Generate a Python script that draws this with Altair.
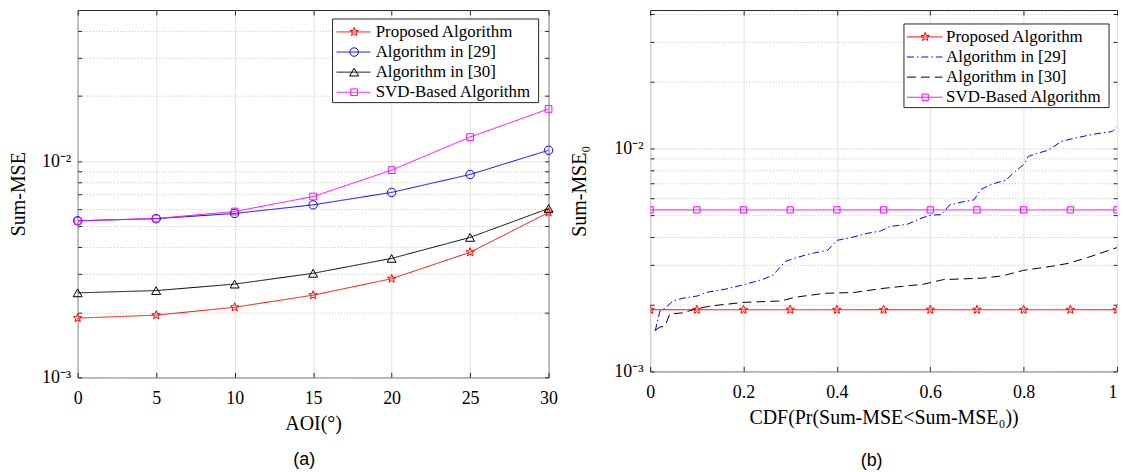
import math
import altair as alt
import pandas as pd

# ---------------- data ----------------
NAMES = ["Proposed Algorithm", "Algorithm in [29]", "Algorithm in [30]", "SVD-Based Algorithm"]
COLORS = ["#ff0000", "#0000ff", "#000000", "#ff00ff"]

# panel (a)
aoi = [0, 5, 10, 15, 20, 25, 30]
a_proposed = [0.00188, 0.00194, 0.00211, 0.00240, 0.00286, 0.00379, 0.00579]
a_alg29 = [0.00530, 0.00542, 0.00573, 0.00628, 0.00717, 0.00868, 0.01123]
a_alg30 = [0.00246, 0.00252, 0.00270, 0.00303, 0.00355, 0.00444, 0.00604]
a_svd = [0.00530, 0.00543, 0.00585, 0.00686, 0.00909, 0.01293, 0.01744]

# panel (b)
cdf_markers = [0.0, 0.1, 0.2, 0.3, 0.4, 0.5, 0.6, 0.7, 0.8, 0.9, 1.0]
b_proposed = [0.00189, 0.00189, 0.00189, 0.00189, 0.00189, 0.00189,
              0.00189, 0.00189, 0.00189, 0.00189, 0.00189]
b_svd = [0.00530, 0.00530, 0.00530, 0.00530, 0.00530, 0.00530,
         0.00530, 0.00530, 0.00530, 0.00530, 0.00530]
b29_cdf = [0.011, 0.021, 0.032, 0.049, 0.070, 0.102, 0.120, 0.162, 0.201, 0.240,
           0.264, 0.289, 0.310, 0.338, 0.381, 0.400, 0.430, 0.465, 0.493, 0.514,
           0.550, 0.578, 0.601, 0.624, 0.641, 0.666, 0.694, 0.708, 0.733, 0.761,
           0.782, 0.800, 0.810, 0.831, 0.852, 0.881, 0.909, 0.951, 0.990, 1.000]
b29_val = [0.00152, 0.00187, 0.00192, 0.00207, 0.00213, 0.00218, 0.00226, 0.00234, 0.00245, 0.00258,
           0.00271, 0.00311, 0.00322, 0.00335, 0.00350, 0.00387, 0.00398, 0.00416, 0.00426, 0.00447,
           0.00456, 0.00484, 0.00502, 0.00505, 0.00557, 0.00574, 0.00588, 0.00654, 0.00693, 0.00719,
           0.00789, 0.00846, 0.00921, 0.00953, 0.00980, 0.01075, 0.01112, 0.01159, 0.01191, 0.01254]
b30_cdf = [0.011, 0.021, 0.032, 0.042, 0.070, 0.099, 0.134, 0.201, 0.281, 0.310, 0.374,
           0.437, 0.501, 0.585, 0.628, 0.712, 0.754, 0.800, 0.860, 0.895, 0.937, 1.000]
b30_val = [0.00153, 0.00158, 0.00160, 0.00181, 0.00183, 0.00191, 0.00197, 0.00204, 0.00207, 0.00215, 0.00224,
           0.00226, 0.00236, 0.00246, 0.00258, 0.00262, 0.00268, 0.00284, 0.00296, 0.00305, 0.00324, 0.00359]

yticks_a = [0.001, 0.002, 0.003, 0.004, 0.005, 0.006, 0.007, 0.008, 0.009,
            0.01, 0.02, 0.03, 0.04]
yticks_b = [0.001, 0.002, 0.003, 0.004, 0.005, 0.006, 0.007, 0.008, 0.009,
            0.01, 0.02, 0.03, 0.04]
xticks_a = [0, 5, 10, 15, 20, 25, 30]
xticks_b = [0, 0.2, 0.4, 0.6, 0.8, 1]

SERIF = "Liberation Serif"
SANS = "Liberation Sans"
BOX = "#262626"


# ---------------- marker geometry ----------------
def star_path(ro, ri):
    pts = []
    for k in range(10):
        r = ro if k % 2 == 0 else ri
        a = math.radians(-90 + 36 * k)
        pts.append((r * math.cos(a), r * math.sin(a)))
    return "M" + " L".join(f"{x:.3f},{y:.3f}" for x, y in pts) + " Z"


STAR = star_path(1.0, 0.42)

# ---------------- tables ----------------
rows = []
for name, vals in zip(NAMES, [a_proposed, a_alg29, a_alg30, a_svd]):
    for x, v in zip(aoi, vals):
        rows.append({"series": name, "x": x, "v": v})
df_a = pd.DataFrame(rows)

rows = []
for name, xs, vals in zip(NAMES, [cdf_markers, b29_cdf, b30_cdf, cdf_markers],
                          [b_proposed, b29_val, b30_val, b_svd]):
    for x, v in zip(xs, vals):
        rows.append({"series": name, "x": x, "v": v})
df_b = pd.DataFrame(rows)

leg_df = pd.DataFrame({"series": NAMES})

# ---------------- styling helpers ----------------
MAJOR_TEST = "datum.value === 0.01 || datum.value === 0.001"
LABEL_EXPR = "datum.value === 0.01 ? '10\u207b\u00b2' : (datum.value === 0.001 ? '10\u207b\u00b3' : '')"


def x_axis(vals, title, fmt, flush_last):
    align = "center"
    if flush_last:
        align = {"condition": {"test": f"datum.value === {vals[-1]}", "value": "right"}, "value": "center"}
    return alt.Axis(values=vals, title=title, format=fmt, grid=True, gridColor="#e3e3e3",
                    domain=False, ticks=True, tickSize={"expr": "-5"}, tickColor=BOX,
                    labelFont=SERIF, labelFontSize=18, labelColor="black", labelPadding=17,
                    labelAlign=align,
                    titleFont=SERIF, titleFontSize=20, titleFontWeight="normal",
                    titleColor="black", titlePadding=6, minExtent=0)


def y_axis(vals, title, tpad, tiny_top):
    size = 18
    if tiny_top:
        size = {"condition": {"test": f"datum.value === {vals[-1]}", "value": 1}, "value": 18}
    return alt.Axis(values=vals, title=title, labelExpr=LABEL_EXPR, grid=True,
                    gridColor={"condition": {"test": MAJOR_TEST, "value": "#e3e3e3"}, "value": "#c4c4c4"},
                    gridDash={"condition": {"test": MAJOR_TEST, "value": [1, 0]}, "value": [1, 2]},
                    domain=False, ticks=True, tickSize={"expr": "-4"}, tickColor=BOX,
                    labelFont=SERIF, labelFontSize=size, labelColor="black", labelPadding=11,
                    labelOverlap=False, minExtent=0,
                    titleFont=SERIF, titleFontSize=20, titleFontWeight="normal",
                    titleColor="black", titlePadding=tpad)


def mirror_axis(orient, vals, size):
    return alt.Axis(orient=orient, values=vals, title=None, labels=False, grid=False,
                    domain=False, ticks=True, tickSize={"expr": str(-size)}, tickColor=BOX,
                    minExtent=0, maxExtent=0)


def legend_layers(markers, dashes, box, rows_y0, dy, line_x, mark_x, text_x):
    bx0, bx1, by0, by1 = box
    out = [
        alt.Chart(leg_df).transform_filter(alt.datum.series == NAMES[0]).mark_rect(
            fill="white", stroke=BOX, strokeWidth=1
        ).encode(x=alt.value(bx0), x2=alt.value(bx1), y=alt.value(by0), y2=alt.value(by1))
    ]
    for i, (name, col, dash, (shape, size)) in enumerate(zip(NAMES, COLORS, dashes, markers)):
        py = rows_y0 + i * dy
        sel = alt.Chart(leg_df).transform_filter(alt.datum.series == name)
        out.append(sel.mark_rule(color=col, strokeWidth=1, strokeDash=dash).encode(
            x=alt.value(line_x[0]), x2=alt.value(line_x[1]), y=alt.value(py)))
        if shape is not None:
            out.append(sel.mark_point(shape=shape, size=size, filled=False, color=col,
                                      strokeWidth=1, opacity=1).encode(
                x=alt.value(mark_x), y=alt.value(py)))
        out.append(sel.mark_text(align="left", baseline="middle", font=SERIF, fontSize=17,
                                 color="black").encode(
            x=alt.value(text_x), y=alt.value(py), text=alt.Text("series:N")))
    return out


def panel(df, xdom, ydom, xticks, yticks, xtitle, xfmt, ytitle, ytpad, at_edge,
          markers, dashes, leg_box, leg_y0, leg_line, leg_mark, leg_text,
          caption, cap_dx, cap_offset, w, h):
    xs = alt.Scale(domain=xdom, nice=False, zero=False)
    ys = alt.Scale(type="log", domain=ydom, nice=False)
    cs = alt.Scale(domain=NAMES, range=COLORS)
    ds = alt.Scale(domain=NAMES, range=dashes)

    lines = alt.Chart(df).mark_line(strokeWidth=1, clip=True).encode(
        x=alt.X("x:Q", scale=xs, axis=x_axis(xticks, xtitle, xfmt, at_edge)),
        y=alt.Y("v:Q", scale=ys, axis=y_axis(yticks, ytitle, ytpad, at_edge)),
        color=alt.Color("series:N", scale=cs, legend=None),
        strokeDash=alt.StrokeDash("series:N", scale=ds, legend=None),
    )
    layers = [lines]
    for name, col, (shape, size) in zip(NAMES, COLORS, markers):
        if shape is None:
            continue
        layers.append(
            alt.Chart(df).transform_filter(alt.datum.series == name).mark_point(
                shape=shape, size=size, filled=False, color=col, strokeWidth=1,
                opacity=1, clip=at_edge
            ).encode(
                x=alt.X("x:Q", scale=xs, axis=None),
                y=alt.Y("v:Q", scale=ys, axis=None),
            )
        )
    mirror = alt.Chart(df).transform_filter("false").mark_point().encode(
        x=alt.X("x:Q", scale=xs, axis=mirror_axis("top", xticks, 5)),
        y=alt.Y("v:Q", scale=ys, axis=mirror_axis("right", yticks, 4)),
    )
    layers.append(mirror)
    layers += legend_layers(markers, dashes, leg_box, leg_y0, 20.2, leg_line, leg_mark, leg_text)
    return alt.layer(*layers).resolve_axis(x="independent", y="independent").properties(
        width=w, height=h,
        title=alt.TitleParams(caption, orient="bottom", font=SANS, fontSize=18,
                              fontWeight="normal", color="black", anchor="middle",
                              dx=cap_dx, offset=cap_offset),
    )


SOLID = [1, 0]
left = panel(
    df_a, [0, 30], [0.001, 0.05], xticks_a, yticks_a, "AOI(\u00b0)", "d", "Sum-MSE", 13, False,
    [(STAR, 81), ("circle", 72), ("triangle-up", 81), ("square", 45)],
    [SOLID, SOLID, SOLID, SOLID],
    (256, 463, 9, 93), 22, (260, 294), 277.7, 299.3,
    "(a)", -9, 18, 473, 369,
)

right = panel(
    df_b, [0, 1], [0.001, 0.04174], xticks_b, yticks_b,
    "CDF(Pr(Sum-MSE<Sum-MSE\u2080))", "~g", "Sum-MSE\u2080", 24, True,
    [(STAR, 81), (None, 0), (None, 0), ("square", 40)],
    [SOLID, [7, 3, 1.5, 3], [9, 5], SOLID],
    (255, 461, 14, 98), 27, (258, 293.7), 276.3, 297.3,
    "(b)", -12, 25, 469, 363,
)

chart = alt.hconcat(left, right, spacing=102, bounds="flush").resolve_scale(
    color="independent", strokeDash="independent"
).properties(padding=0, background="white").configure_view(stroke=BOX, strokeWidth=1)

chart.save("out.html", embed_options={"renderer": "svg", "actions": False})
